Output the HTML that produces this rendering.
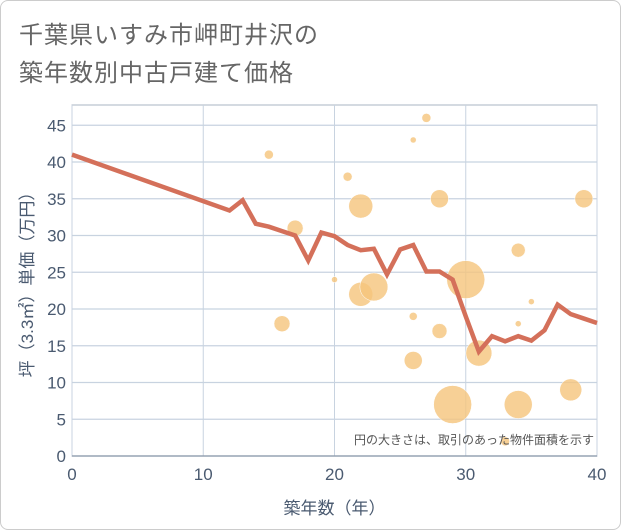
<!DOCTYPE html>
<html><head><meta charset="utf-8"><style>
body{margin:0;background:#fff;}
#card{position:absolute;left:0;top:0;width:619px;height:528px;border:1px solid #ccc;border-radius:8px;background:#fff;}
.t{position:absolute;left:18px;font:24px "Liberation Sans","Noto Sans CJK JP",sans-serif;color:#666;letter-spacing:1px;}
svg{position:absolute;left:0;top:0;}
text{font-family:"Liberation Sans","Noto Sans CJK JP",sans-serif;}
</style></head><body>
<div id="card">
<div class="t" style="top:14px">千葉県いすみ市岬町井沢の</div>
<div class="t" style="top:52px">築年数別中古戸建て価格</div>
</div>
<svg id="chart" width="621" height="530"></svg>
<script>
const lineYears=[0,12,13,14,15,16,17,18,19,20,21,22,23,24,25,26,27,28,29,30,31,32,33,34,35,36,37,38,39,40];
const lineValues=[41,33.4,34.8,31.6,31.2,30.6,30,26.6,30.4,29.9,28.7,28,28.2,24.7,28.1,28.7,25.1,25.1,24,19,14.2,16.3,15.6,16.3,15.7,17.1,20.6,19.3,18.7,18.1];
const bubbleYears=[15,17,16,20,21,22,22,23,26,27,26,26,28,28,29,30,31,33,34,34,34,35,38,39];
const bubbleValues=[41,31,18,24,38,34,22,23,43,46,19,13,35,17,7,24,14,2,28,18,7,21,9,35];
const bubbleSizes=[4.5,8,8,3,4.5,12,12,14,3,4.5,4,9,9,7.5,19,19,13,4.5,7,3,14,3,11,9];
const xTicks=[0,10,20,30,40];
const yTicks=[0,5,10,15,20,25,30,35,40,45];
const X0=72,X1=597,Y0=456,YT=105;
const xs=v=>X0+(X1-X0)*v/40;
const ys=v=>Y0-(Y0-162)*v/40;
const svg=document.getElementById('chart');
const NS='http://www.w3.org/2000/svg';
function mk(t,a,p){const e=document.createElementNS(NS,t);for(const k in a)e.setAttribute(k,a[k]);(p||svg).appendChild(e);return e;}
const bg=mk('rect',{x:X0,y:YT,width:X1-X0,height:Y0-YT,fill:'#fff',stroke:'#aab4c3','stroke-width':1});


yTicks.forEach(v=>{
 const l=mk('line',{x1:X0,x2:X1,y1:ys(v),y2:ys(v),stroke:'#c8d3e0','stroke-width':1.2});
 
 
 const t=mk('text',{x:X0-6,y:ys(v)+6,'text-anchor':'end','font-size':17,fill:'#4a5a70'});
 t.textContent=v;
 
 
});
xTicks.forEach(v=>{
 const l=mk('line',{x1:xs(v),x2:xs(v),y1:YT,y2:Y0,stroke:'#c8d3e0','stroke-width':1});
 
 
 const t=mk('text',{x:xs(v),y:Y0+24,'text-anchor':'middle','font-size':17,fill:'#4a5a70'});
 t.textContent=v;
 
 
});
mk('line',{x1:X0,x2:X1,y1:Y0,y2:Y0,stroke:'#8a96a8','stroke-width':1.2});
bubbleYears.forEach((y,i)=>{
 const c=mk('circle',{cx:xs(y),cy:ys(bubbleValues[i]),r:bubbleSizes[i],fill:'#f5c47c','fill-opacity':0.8,stroke:'#fff','stroke-width':0.5});
 
 
});
const pl=mk('polyline',{points:lineYears.map((y,i)=>xs(y)+','+ys(lineValues[i])).join(' '),fill:'none',stroke:'#d4705a','stroke-width':4.5,'stroke-linejoin':'miter'});


const note=mk('text',{x:594,y:444,'text-anchor':'end','font-size':12,fill:'#555'});
note.textContent='円の大きさは、取引のあった物件面積を示す';


const xt=mk('text',{x:(X0+X1)/2,y:514,'text-anchor':'middle','font-size':17,fill:'#4a5a70'});
xt.textContent='築年数（年）';


const yt=mk('text',{x:0,y:0,'text-anchor':'middle','font-size':17,fill:'#4a5a70',transform:'translate(33,'+((YT+Y0)/2)+') rotate(-90)'});
yt.textContent='坪（3.3㎡）単価（万円）';


</script>
</body></html>
